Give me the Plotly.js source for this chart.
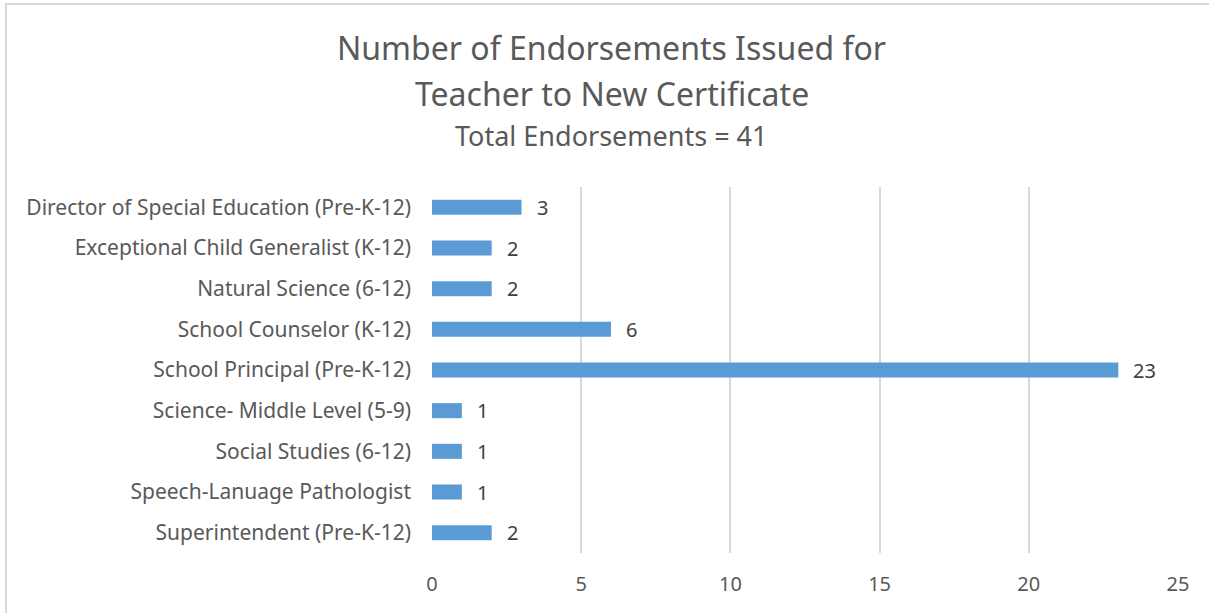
<!DOCTYPE html>
<html>
<head>
<meta charset="utf-8">
<script src="https://cdn.plot.ly/plotly-3.0.1.min.js"></script>
<style>
html,body{margin:0;padding:0;background:#fff;overflow:hidden;}
#chart{width:1209px;height:613px;position:absolute;left:0;top:0;}
#frame{position:absolute;left:5px;top:3px;width:1230px;height:640px;border:2px solid #d9d9d9;pointer-events:none;box-sizing:border-box;}
</style>
</head>
<body>
<div id="chart"></div>
<div id="frame"></div>
<script>
const categories = [
  "Director of Special Education (Pre-K-12)",
  "Exceptional Child Generalist (K-12)",
  "Natural Science (6-12)",
  "School Counselor (K-12)",
  "School Principal (Pre-K-12)",
  "Science- Middle Level (5-9)",
  "Social Studies (6-12)",
  "Speech-Lanuage Pathologist",
  "Superintendent (Pre-K-12)"
];
const values = [3, 2, 2, 6, 23, 1, 1, 1, 2];
const xTicks = [0, 5, 10, 15, 20, 25];
const titleLine1 = "Number of Endorsements Issued for";
const titleLine2 = "Teacher to New Certificate";
const subtitle = "Total Endorsements = 41";

const FONT = "Noto Sans, Open Sans, sans-serif";

const trace = {
  type: "bar",
  orientation: "h",
  x: values,
  y: categories,
  marker: {color: "#5b9bd5"},
  hoverinfo: "x+y"
};

const labelAnns = values.map((v, i) => ({
  x: v, y: categories[i], xref: "x", yref: "y",
  text: String(v), showarrow: false, xanchor: "left", yanchor: "middle",
  xshift: 13, font: {family: FONT, size: 20, color: "#404040"}
}));

const titleAnns = [
  {text: titleLine1, y: 1.382, size: 32},
  {text: titleLine2, y: 1.256, size: 32},
  {text: subtitle, y: 1.141, size: 27}
].map(t => ({
  x: 0.241, y: t.y, xref: "paper", yref: "paper", text: t.text, showarrow: false,
  xanchor: "center", yanchor: "middle", font: {family: FONT, size: t.size, color: "#595959"}
}));

const layout = {
  width: 1209, height: 613,
  margin: {l: 432, r: 31, t: 187, b: 60, pad: 0},
  paper_bgcolor: "#ffffff", plot_bgcolor: "#ffffff",
  showlegend: false,
  bargap: 0.63,
  font: {family: FONT, color: "#595959"},
  xaxis: {
    range: [0, 25], tickvals: xTicks, ticktext: xTicks.map(String),
    showgrid: true, gridcolor: "#d9d9d9", gridwidth: 2,
    zeroline: false, showline: false, ticks: "",
    tickfont: {family: FONT, size: 20, color: "#595959"},
    ticklabelstandoff: 17, fixedrange: true
  },
  yaxis: {
    type: "category", autorange: "reversed",
    showgrid: false, zeroline: false, showline: false, ticks: "",
    tickfont: {family: FONT, size: 21, color: "#595959"},
    ticklabelstandoff: 20, fixedrange: true
  },
  annotations: titleAnns.concat(labelAnns)
};

Plotly.newPlot("chart", [trace], layout, {displayModeBar: false, staticPlot: true});
</script>
</body>
</html>
